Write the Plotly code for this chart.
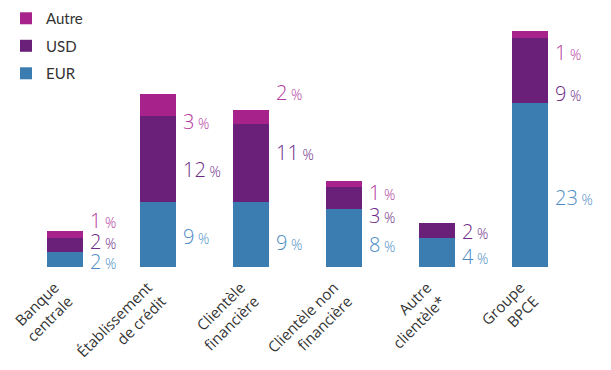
import plotly.graph_objects as go

# data
categories = ['Banque<br>centrale', 'Établissement<br>de crédit', 'Clientèle<br>financière',
              'Clientèle non<br>financière', 'Autre<br>clientèle*', 'Groupe<br>BPCE']
eur = [2.1, 9.1, 9.1, 8.1, 4.1, 23.0]
usd = [2.0, 12.0, 10.9, 3.1, 2.0, 9.1]
autre = [1.0, 3.1, 2.0, 0.85, 0.0, 1.0]

eur_lbl = ['2', '9', '9', '8', '4', '23']
usd_lbl = ['2', '12', '11', '3', '2', '9']
autre_lbl = ['1', '3', '2', '1', None, '1']

# label heights (data units)
eur_lbl_y = [0.8, 4.3, 3.5, 3.1, 1.5, 9.8]
usd_lbl_y = [3.6, 13.7, 16.0, 7.2, 5.0, 24.3]
autre_lbl_y = [6.5, 20.4, 24.5, 10.5, None, 30.1]

C_EUR = '#3b7db0'
C_USD = '#6a1f78'
C_AUT = '#a8228b'
L_EUR = '#4d8cc4'
L_USD = '#6e2a86'
L_AUT = '#b3389c'

x = list(range(len(categories)))
fig = go.Figure()
for name, vals, col, rank in [('EUR', eur, C_EUR, 3), ('USD', usd, C_USD, 2), ('Autre', autre, C_AUT, 1)]:
    fig.add_trace(go.Bar(x=x, y=vals, name=name, marker_color=col,
                         marker_line_width=0, width=0.386, legendgroup=name,
                         legendrank=rank, hoverinfo='skip'))

def pct(v):
    return ("<span style='font-size:20px'>" + v + "</span>"
            "<span style='font-size:14px'> %</span>")

for lbls, ys, col in [(eur_lbl, eur_lbl_y, L_EUR), (usd_lbl, usd_lbl_y, L_USD),
                      (autre_lbl, autre_lbl_y, L_AUT)]:
    for i, (t, yy) in enumerate(zip(lbls, ys)):
        if t is None:
            continue
        fig.add_annotation(x=i, y=yy, text=pct(t), showarrow=False,
                           xanchor='left', yanchor='middle', xshift=23,
                           font=dict(family='Open Sans', size=20, color=col, weight=300))

# the page body adds an 8px offset, so margins are trimmed to compensate
fig.update_layout(
    width=611, height=370,
    margin=dict(l=10, r=42, t=2, b=111, autoexpand=False),
    barmode='stack',
    plot_bgcolor='white', paper_bgcolor='white',
    font=dict(family='Lato', color='#333333'),
    legend=dict(x=-0.0215, y=1.031, xanchor='left', yanchor='top',
                traceorder='grouped', tracegroupgap=5,
                font=dict(size=15, color='#333333'), bgcolor='rgba(0,0,0,0)'),
)
fig.update_xaxes(range=[-0.5, 5.5], tickvals=x, ticktext=categories, tickangle=-45,
                 showline=False, showgrid=False, zeroline=False, ticks='',
                 ticklabelshift=-10, ticklabelstandoff=8,
                 tickfont=dict(family='Open Sans', size=15, color='#333333'))
fig.update_yaxes(range=[0, 36], visible=False)

fig.write_html("out.html")
